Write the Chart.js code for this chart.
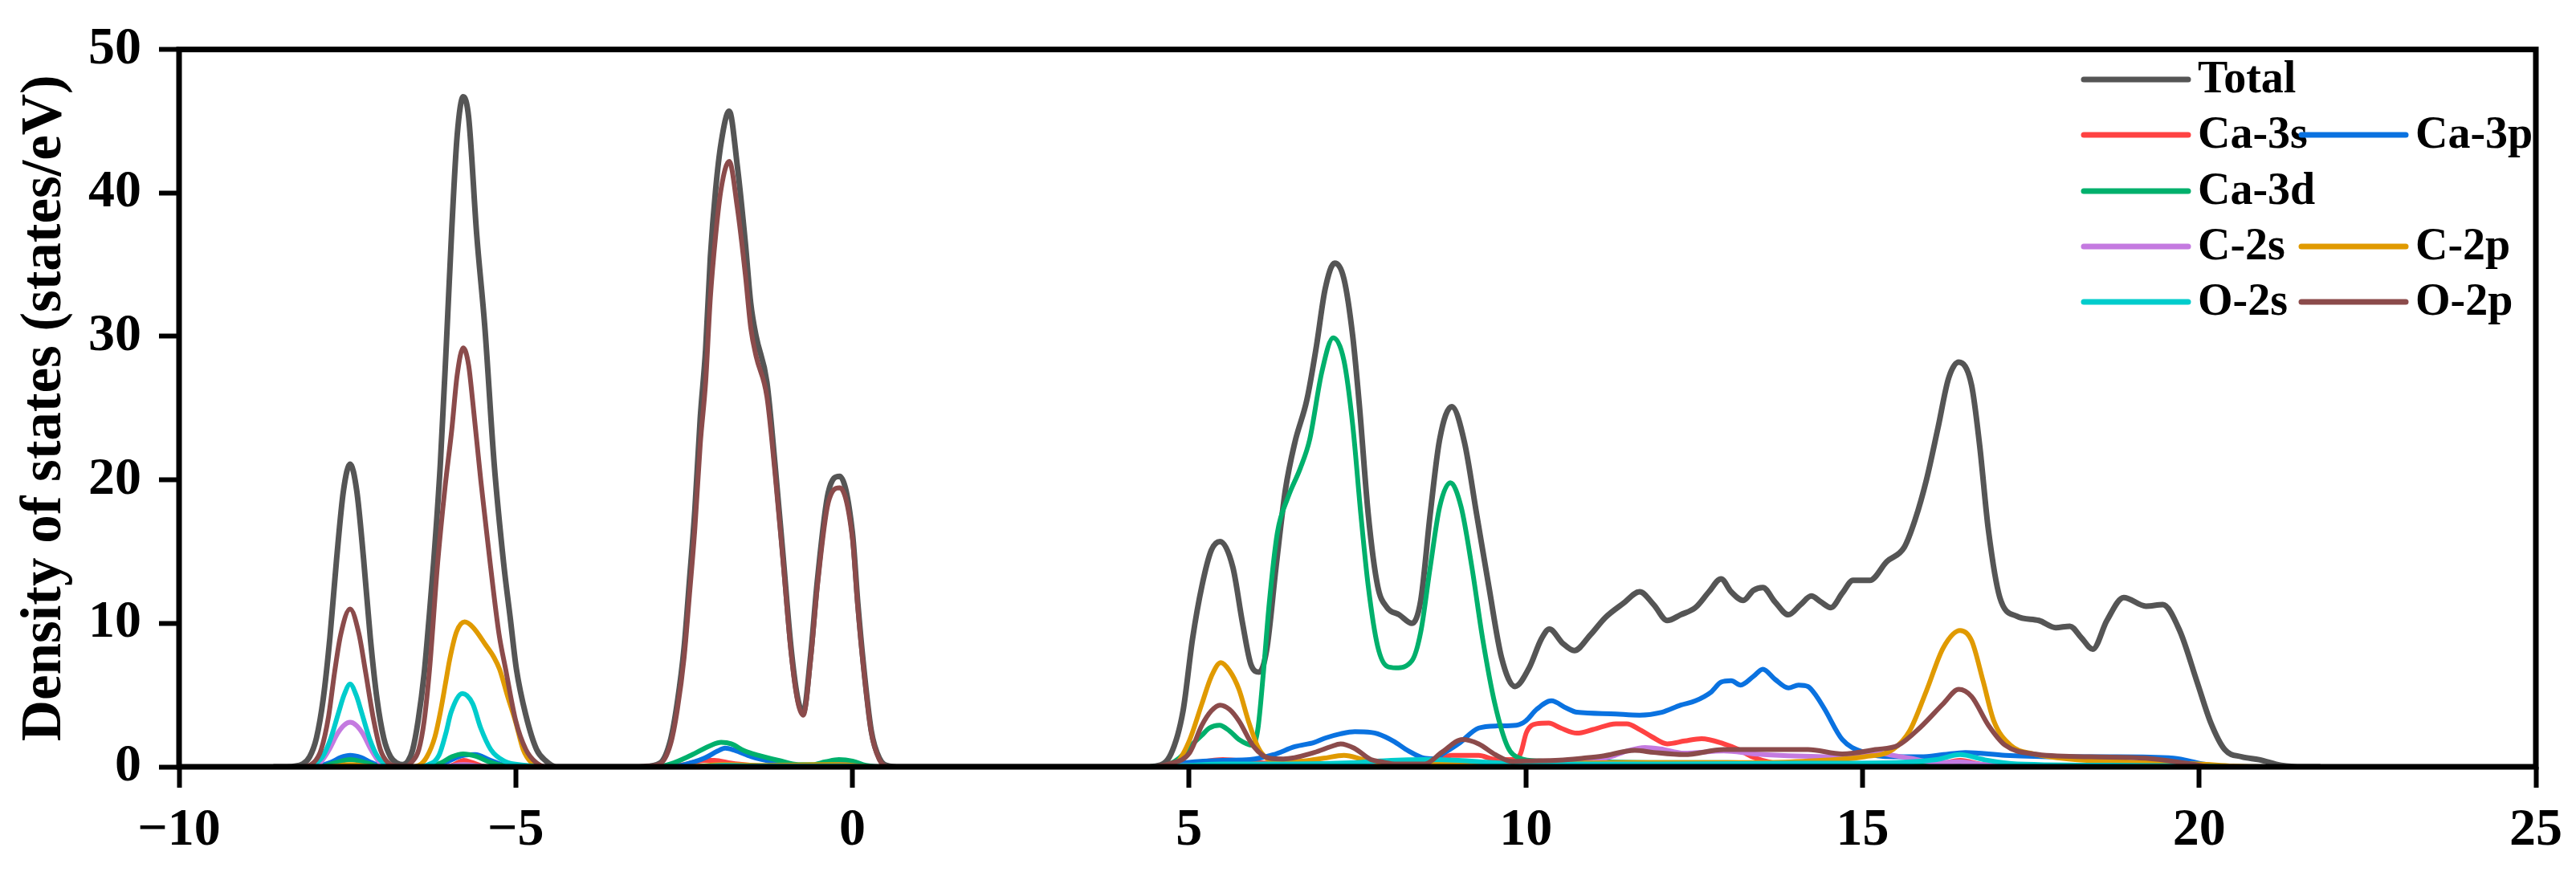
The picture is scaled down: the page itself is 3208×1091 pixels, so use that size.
<!DOCTYPE html>
<html>
<head>
<meta charset="utf-8">
<title>Density of states</title>
<script src="https://cdn.jsdelivr.net/npm/chart.js@4.4.1/dist/chart.umd.min.js"></script>
<style>
  html, body { margin: 0; padding: 0; background: #fff; }
  #wrap { width: 3208px; height: 1091px; }
</style>
</head>
<body>
<div id="wrap"><canvas id="dosChart" width="3208" height="1091"></canvas></div>
<script>
// axis ticks
var xTicks = [-10, -5, 0, 5, 10, 15, 20, 25];
var yTicks = [0, 10, 20, 30, 40, 50];

// [energy (eV), DOS (states/eV)]
var totalDos = [[-8.6,0],[-8.4,0],[-8.16,0.2],[-8.06,0.7],[-7.96,2.0],[-7.86,4.7],[-7.76,9.0],[-7.66,14.5],[-7.56,19.2],[-7.46,21.1],[-7.36,19.2],[-7.26,14.5],[-7.16,9.0],[-7.06,4.7],[-6.96,2.0],[-6.86,0.7],[-6.76,0.25],[-6.68,0.15],[-6.6,0.4],[-6.53,1.2],[-6.45,3.2],[-6.36,6.5],[-6.29,10.2],[-6.22,14.2],[-6.12,21.1],[-6.03,29.5],[-5.95,37.5],[-5.87,44.0],[-5.78,46.7],[-5.7,45.3],[-5.58,37.1],[-5.46,30.7],[-5.32,21.1],[-5.18,14.2],[-5.08,10.3],[-4.99,6.8],[-4.85,3.6],[-4.69,1.2],[-4.55,0.4],[-4.4,0],
  [-3.3,0],[-3.1,0.02],[-2.86,0.25],[-2.7,1.9],[-2.6,4.5],[-2.5,8.3],[-2.42,13.0],[-2.34,17.9],[-2.26,24.3],[-2.18,29.1],[-2.11,35.5],[-2.03,40.3],[-1.95,43.5],[-1.83,45.7],[-1.71,41.9],[-1.59,36.5],[-1.51,32.3],[-1.43,30.0],[-1.27,26.8],[-1.15,21.1],[-1.03,14.7],[-0.91,8.2],[-0.81,4.7],[-0.73,3.8],[-0.62,7.8],[-0.52,13.0],[-0.36,19.1],[-0.19,20.25],[0.0,16.3],[0.08,11.4],[0.16,7.3],[0.28,2.5],[0.4,0.6],[0.55,0.05],[0.7,0],
  [4.3,0],[4.5,0.05],[4.73,0.9],[4.91,3.9],[5.05,8.9],[5.19,12.6],[5.33,15.1],[5.46,15.7],[5.65,13.9],[5.79,10.1],[5.92,7.1],[6.04,6.6],[6.15,8.1],[6.29,13.9],[6.43,19.3],[6.57,22.6],[6.75,25.6],[6.89,29.3],[7.02,33.3],[7.16,35.1],[7.3,34.0],[7.43,30.0],[7.53,25.1],[7.66,17.6],[7.8,12.6],[7.94,11.1],[8.12,10.6],[8.31,10.0],[8.44,11.6],[8.58,17.6],[8.72,22.8],[8.9,25.1],[9.09,22.6],[9.27,17.6],[9.45,12.6],[9.64,7.6],[9.84,5.6],[10.05,6.9],[10.23,8.9],[10.35,9.6],[10.55,8.6],[10.72,8.1],[10.96,9.2],[11.18,10.4],[11.45,11.4],[11.69,12.2],[11.9,11.3],[12.1,10.2],[12.3,10.6],[12.52,11.1],[12.72,12.2],[12.9,13.1],[13.05,12.2],[13.23,11.6],[13.38,12.3],[13.52,12.5],[13.7,11.5],[13.9,10.6],[14.08,11.3],[14.24,11.9],[14.38,11.5],[14.53,11.1],[14.7,12.1],[14.86,13.0],[15.11,13.0],[15.36,14.3],[15.62,15.3],[15.78,17.2],[15.95,20.0],[16.12,23.6],[16.28,27.1],[16.43,28.2],[16.62,26.6],[16.74,22.4],[16.87,16.5],[17.04,11.8],[17.29,10.5],[17.62,10.2],[17.87,9.7],[18.08,9.8],[18.25,9.0],[18.42,8.2],[18.63,10.2],[18.88,11.8],[19.21,11.2],[19.46,11.3],[19.71,9.5],[19.97,5.9],[20.17,3.1],[20.38,1.2],[20.63,0.7],[20.89,0.5],[21.22,0.1],[21.55,0],[21.8,0]];

var ca3s = [[-8.6,0],[-7.8,0],[-7.46,0.1],[-7.1,0],[-6.0,0],[-5.9,0.2],[-5.77,0.45],[-5.65,0.3],[-5.5,0.05],[-5.4,0],[-2.8,0],[-2.5,0.15],[-2.2,0.45],[-2.05,0.45],[-1.8,0.25],[-1.5,0.1],[-1.2,0],
  [4.5,0],[5.0,0.2],[5.5,0.5],[6.0,0.3],[7.0,0.2],[8.0,0.2],[8.6,0.3],[8.9,0.8],[9.3,0.8],[9.55,0.5],[9.8,0.5],[9.92,0.9],[10.01,2.4],[10.16,3.0],[10.34,3.05],[10.52,2.7],[10.76,2.35],[11.0,2.6],[11.34,3.0],[11.5,3.0],[11.69,2.6],[11.87,2.1],[12.1,1.6],[12.36,1.8],[12.61,1.96],[12.94,1.6],[13.16,1.2],[13.36,0.7],[13.69,0.25],[14.2,0.1],[15.5,0.1],[16.1,0.15],[16.45,0.45],[16.8,0.15],[17.5,0.1],[19.5,0.05],[20,0],[21.8,0]];

var ca3p = [[-8.6,0],[-8.0,0],[-7.75,0.3],[-7.6,0.65],[-7.46,0.8],[-7.3,0.65],[-7.15,0.3],[-6.95,0],[-6.2,0],[-6.0,0.4],[-5.78,0.8],[-5.6,0.85],[-5.4,0.5],[-5.2,0.15],[-5.0,0],
  [-2.7,0],[-2.5,0.15],[-2.2,0.6],[-2.0,1.1],[-1.89,1.3],[-1.75,1.15],[-1.5,0.7],[-1.2,0.35],[-0.9,0.1],[-0.6,0.05],[-0.2,0.2],[0.2,0.05],[0.4,0],
  [4.4,0],[4.7,0.1],[4.97,0.3],[5.5,0.45],[5.9,0.5],[6.25,0.84],[6.57,1.4],[6.86,1.7],[7.02,2.0],[7.25,2.3],[7.46,2.45],[7.7,2.4],[7.8,2.3],[8.03,1.8],[8.26,1.1],[8.49,0.6],[8.63,0.56],[8.8,1.0],[9.0,1.6],[9.3,2.7],[9.58,2.85],[9.86,2.9],[10.0,3.2],[10.16,4.0],[10.38,4.6],[10.6,4.1],[10.76,3.8],[11.26,3.7],[11.69,3.6],[12.02,3.8],[12.3,4.3],[12.52,4.6],[12.75,5.2],[12.9,5.9],[13.05,6.0],[13.19,5.7],[13.38,6.3],[13.52,6.8],[13.7,6.1],[13.9,5.5],[14.05,5.7],[14.19,5.6],[14.32,4.9],[14.44,4.0],[14.7,1.9],[15.03,1.0],[15.45,0.7],[15.87,0.7],[16.2,0.85],[16.53,1.0],[17.12,0.8],[17.95,0.7],[18.78,0.7],[19.62,0.6],[20.05,0.2],[20.4,0],[21.8,0]];

var ca3d = [[-8.6,0],[-7.9,0],[-7.7,0.25],[-7.46,0.5],[-7.2,0.25],[-7.0,0],[-6.3,0],[-6.1,0.3],[-5.95,0.7],[-5.78,0.9],[-5.6,0.75],[-5.4,0.35],[-5.2,0.1],[-5.0,0],
  [-2.9,0],[-2.7,0.2],[-2.4,0.8],[-2.1,1.5],[-1.95,1.7],[-1.8,1.6],[-1.6,1.1],[-1.4,0.8],[-1.1,0.45],[-0.8,0.15],[-0.6,0.15],[-0.4,0.35],[-0.2,0.5],[0.0,0.4],[0.2,0.1],[0.4,0],
  [4.4,0],[4.65,0.1],[4.85,0.6],[5.01,1.4],[5.19,2.2],[5.3,2.7],[5.45,2.9],[5.6,2.5],[5.74,1.9],[5.94,1.5],[6.02,2.6],[6.1,6.4],[6.19,11.4],[6.31,16.3],[6.47,18.8],[6.65,20.8],[6.79,22.8],[6.97,27.5],[7.14,29.9],[7.3,28.3],[7.43,23.8],[7.55,17.6],[7.66,12.6],[7.8,8.4],[7.94,7.0],[8.07,6.9],[8.31,7.4],[8.44,9.4],[8.58,13.9],[8.72,18.1],[8.88,19.8],[9.04,18.1],[9.2,13.9],[9.36,8.9],[9.54,4.4],[9.73,1.4],[9.91,0.6],[10.2,0.4],[11,0.35],[12,0.3],[13,0.3],[14,0.2],[15,0.15],[16,0.1],[17,0.1],[18,0.05],[19,0.05],[20,0],[21.8,0]];

var c2s = [[-8.6,0],[-8.0,0],[-7.9,0.3],[-7.77,1.2],[-7.65,2.3],[-7.55,2.9],[-7.46,3.1],[-7.37,2.9],[-7.27,2.3],[-7.15,1.2],[-7.02,0.3],[-6.9,0],[-6.1,0],[-5.78,0.15],[-5.4,0],
  [4.5,0],[5.0,0.1],[6.0,0.1],[8.0,0.1],[9.0,0.15],[10.0,0.2],[10.8,0.4],[11.26,0.7],[11.5,1.1],[11.77,1.35],[12.0,1.25],[12.35,0.95],[12.94,1.1],[13.4,0.9],[13.77,0.8],[14.61,0.7],[15.0,0.9],[15.19,1.0],[15.45,0.8],[15.7,0.6],[16.1,0.3],[16.45,0.35],[16.8,0.15],[17.5,0.1],[19,0.05],[20,0],[21.8,0]];

var c2p = [[-8.6,0],[-7.8,0],[-7.46,0.15],[-7.1,0],[-6.6,0],[-6.44,0.1],[-6.32,0.7],[-6.2,2.1],[-6.12,3.8],[-6.04,5.9],[-5.98,7.5],[-5.88,9.4],[-5.76,10.1],[-5.64,9.75],[-5.44,8.45],[-5.32,7.6],[-5.24,6.8],[-5.12,4.9],[-5.0,3.1],[-4.89,1.2],[-4.77,0.3],[-4.6,0],
  [-2.5,0],[-1.9,0.15],[-1.3,0.1],[-0.2,0.15],[0.3,0],
  [4.4,0],[4.65,0.05],[4.82,0.3],[5.01,1.9],[5.19,4.4],[5.33,6.3],[5.47,7.26],[5.6,6.7],[5.74,5.4],[5.88,3.2],[6.02,1.4],[6.15,0.6],[6.35,0.3],[6.7,0.4],[7.0,0.6],[7.3,0.8],[7.6,0.5],[7.9,0.25],[8.3,0.15],[8.8,0.2],[9.3,0.2],[9.8,0.2],[10.5,0.25],[11.5,0.3],[12.5,0.3],[13.5,0.3],[14.2,0.4],[14.6,0.5],[15.03,0.7],[15.45,1.2],[15.7,2.5],[15.95,5.3],[16.2,8.3],[16.45,9.5],[16.62,8.8],[16.79,6.0],[16.95,3.2],[17.2,1.5],[17.54,0.9],[17.95,0.6],[18.5,0.4],[19.2,0.3],[20,0.2],[20.5,0.05],[21,0],[21.8,0]];

var o2s = [[-8.6,0],[-8.1,0],[-8.03,0.1],[-7.87,0.7],[-7.75,1.95],[-7.63,3.8],[-7.55,5.0],[-7.46,5.76],[-7.37,5.0],[-7.29,3.8],[-7.17,1.95],[-7.05,0.7],[-6.91,0.1],[-6.8,0],[-6.4,0],[-6.32,0.1],[-6.14,0.8],[-6.04,2.3],[-5.96,3.8],[-5.79,5.1],[-5.64,4.4],[-5.52,2.7],[-5.37,1.2],[-5.17,0.4],[-4.85,0.1],[-4.6,0],
  [-2.3,0],[-1.9,0.1],[-1.4,0.05],[-0.2,0.05],[0.3,0],
  [4.5,0],[5.0,0.1],[5.5,0.2],[6.5,0.2],[7.5,0.3],[8.0,0.45],[8.5,0.5],[9.0,0.45],[9.5,0.3],[10,0.2],[12,0.2],[14,0.25],[15.5,0.3],[16.1,0.5],[16.45,0.85],[16.8,0.5],[17.3,0.2],[19,0.1],[20,0.05],[20.5,0],[21.8,0]];

var o2p = [[-8.6,0],[-8.2,0],[-8.0,0.3],[-7.89,1.2],[-7.78,3.5],[-7.69,6.6],[-7.6,9.2],[-7.46,11.0],[-7.33,9.3],[-7.23,6.6],[-7.12,3.5],[-7.01,1.2],[-6.9,0.3],[-6.75,0.05],[-6.62,0.05],[-6.55,0.3],[-6.44,1.2],[-6.36,3.2],[-6.28,6.8],[-6.16,14.2],[-6.05,19.5],[-5.95,23.5],[-5.87,27.3],[-5.78,29.2],[-5.7,28.0],[-5.64,25.5],[-5.52,20.0],[-5.46,17.5],[-5.38,14.2],[-5.25,9.3],[-5.15,6.8],[-5.0,3.2],[-4.85,1.2],[-4.7,0.3],[-4.55,0],
  [-3.3,0],[-3.1,0.02],[-2.86,0.2],[-2.7,1.6],[-2.6,4.0],[-2.5,7.6],[-2.42,12.0],[-2.34,16.6],[-2.26,22.5],[-2.18,26.8],[-2.11,32.7],[-2.03,37.1],[-1.95,40.3],[-1.83,42.2],[-1.71,39.0],[-1.59,34.3],[-1.51,30.6],[-1.43,28.6],[-1.27,25.8],[-1.15,20.5],[-1.03,14.3],[-0.91,7.9],[-0.81,4.5],[-0.73,3.6],[-0.62,7.5],[-0.52,12.6],[-0.36,18.4],[-0.19,19.45],[0.0,15.9],[0.08,11.1],[0.16,7.1],[0.28,2.4],[0.4,0.5],[0.55,0],[0.7,0],
  [4.4,0],[4.7,0.2],[5.01,1.0],[5.19,2.9],[5.33,3.9],[5.46,4.3],[5.6,4.0],[5.74,3.2],[5.96,1.4],[6.19,0.6],[6.4,0.55],[6.86,1.0],[7.1,1.4],[7.25,1.6],[7.45,1.3],[7.7,0.5],[7.85,0.35],[8.08,0.19],[8.5,0.2],[8.75,1.0],[9.06,1.9],[9.3,1.6],[9.55,0.84],[9.8,0.37],[10.0,0.4],[10.5,0.46],[10.85,0.6],[11.13,0.74],[11.62,1.15],[11.9,1.0],[12.35,0.85],[12.94,1.2],[13.3,1.2],[13.61,1.2],[14.19,1.2],[14.7,0.9],[15.19,1.2],[15.53,1.5],[15.87,2.8],[16.2,4.4],[16.43,5.4],[16.62,4.9],[16.87,2.9],[17.12,1.5],[17.54,0.9],[18.38,0.7],[19.21,0.6],[19.88,0.2],[20.2,0],[21.8,0]];

var seriesNames = ['Total', 'Ca-3s', 'Ca-3p', 'Ca-3d', 'C-2s', 'C-2p', 'O-2s', 'O-2p'];
var seriesData = [totalDos, ca3s, ca3p, ca3d, c2s, c2p, o2s, o2p];
var seriesColors = ['#555555', '#ff4242', '#0a72e0', '#00b06c', '#c47ae0', '#e09a00', '#00cccc', '#8b4b4b'];

var serif = '"Liberation Serif", "Times New Roman", serif';

// legend slots: [row, col]
var legendSlots = [[0, 0], [1, 0], [1, 1], [2, 0], [3, 0], [3, 1], [4, 0], [4, 1]];

var legendPlugin = {
    id: 'dosLegend',
    afterDraw: function(chart) {
        var ctx = chart.ctx;
        var rowY = [99, 168, 238, 307, 376];
        var colX = [2595, 2866];
        ctx.save();
        ctx.font = 'bold 56px ' + serif;
        ctx.textBaseline = 'middle';
        ctx.fillStyle = '#000';
        chart.data.datasets.forEach(function(ds, i) {
            var slot = legendSlots[i];
            var x = colX[slot[1]], y = rowY[slot[0]];
            ctx.strokeStyle = ds.borderColor;
            ctx.lineWidth = 7;
            ctx.lineCap = 'round';
            ctx.beginPath();
            ctx.moveTo(x, y);
            ctx.lineTo(x + 130, y);
            ctx.stroke();
            ctx.fillText(ds.label, x + 142, y + 2);
        });
        ctx.restore();
    }
};

// axes frame drawn over the curves
var framePlugin = {
    id: 'frame',
    afterDatasetsDraw: function(chart) {
        var a = chart.chartArea, ctx = chart.ctx;
        ctx.save();
        ctx.strokeStyle = '#000';
        ctx.lineWidth = 7;
        ctx.strokeRect(a.left, a.top, a.right - a.left, a.bottom - a.top);
        ctx.restore();
    }
};

var datasets = seriesNames.map(function(name, i) {
    return {
        label: name,
        data: seriesData[i].map(function(p) { return {x: p[0], y: p[1]}; }),
        borderColor: seriesColors[i],
        borderWidth: i === 0 ? 7 : 6,
        pointRadius: 0,
        fill: false,
        cubicInterpolationMode: 'monotone',
        order: seriesNames.length - i
    };
});

var ctx = document.getElementById('dosChart').getContext('2d');
var dosChart = new Chart(ctx, {
    type: 'line',
    data: { datasets: datasets },
    options: {
        responsive: false,
        devicePixelRatio: 1,
        animation: false,
        layout: { padding: { top: 58, right: 50, left: 0, bottom: 0 } },
        plugins: { legend: { display: false }, tooltip: { enabled: false } },
        scales: {
            x: {
                type: 'linear',
                min: -10, max: 25,
                afterBuildTicks: function(scale) { scale.ticks = xTicks.map(function(v) { return {value: v}; }); },
                afterFit: function(scale) { scale.height = 136; },
                grid: { drawOnChartArea: false, tickLength: 26, tickWidth: 6, tickColor: '#000' },
                border: { display: false },
                ticks: {
                    autoSkip: false, maxRotation: 0, padding: 14, color: '#000',
                    font: { family: serif, weight: 'bold', size: 66 },
                    callback: function(v) { return v < 0 ? '\u2212' + Math.abs(v) : String(v); }
                }
            },
            y: {
                min: 0, max: 50,
                afterBuildTicks: function(scale) { scale.ticks = yTicks.map(function(v) { return {value: v}; }); },
                afterFit: function(scale) { scale.width = 223; },
                grid: { drawOnChartArea: false, tickLength: 25, tickWidth: 6, tickColor: '#000' },
                border: { display: false },
                ticks: {
                    autoSkip: false, padding: 22, color: '#000',
                    font: { family: serif, weight: 'bold', size: 66 }
                },
                title: {
                    display: true,
                    text: 'Density of states (states/eV)',
                    color: '#000',
                    padding: { top: 14, bottom: 0 },
                    font: { family: serif, weight: 'bold', size: 71 }
                }
            }
        }
    },
    plugins: [framePlugin, legendPlugin]
});
</script>
</body>
</html>
